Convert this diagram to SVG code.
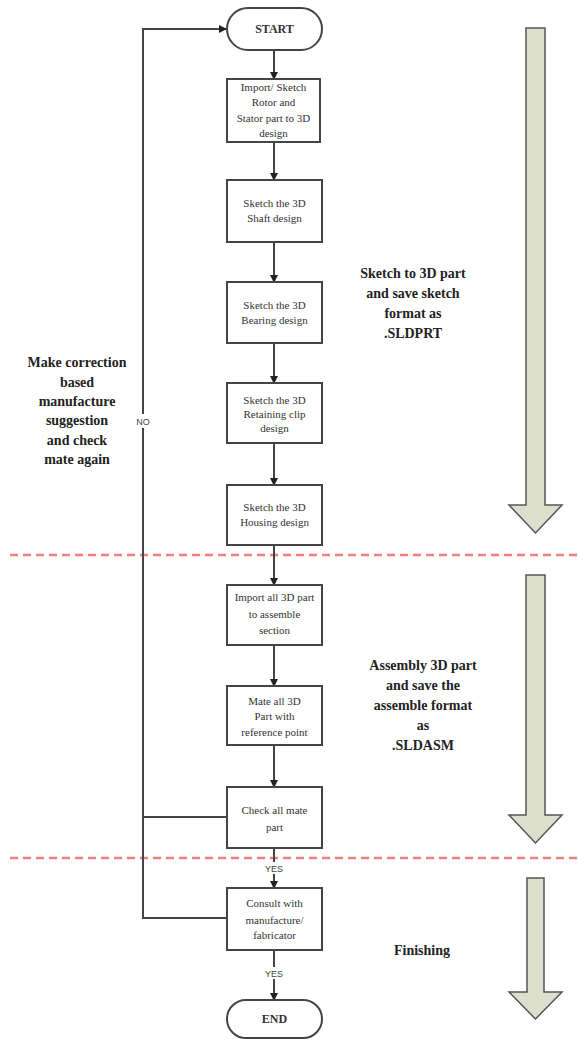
<svg xmlns="http://www.w3.org/2000/svg" width="578" height="1040" viewBox="0 0 578 1040">
<style>
.box{fill:#fff;stroke:#444;stroke-width:2}
.t{font-family:"Liberation Serif",serif;font-size:11px;fill:#333;text-anchor:middle}
.tb{font-family:"Liberation Serif",serif;font-size:12px;font-weight:bold;fill:#333;text-anchor:middle}
.lbl{font-family:"Liberation Serif",serif;font-size:14px;font-weight:bold;fill:#222;text-anchor:middle}
.small{font-family:"Liberation Sans",sans-serif;font-size:9px;fill:#444;text-anchor:middle}
.con{fill:none;stroke:#444;stroke-width:2}
.sep{stroke:#f08080;stroke-width:2.5;stroke-dasharray:8 5}
.big{fill:#dcdfcd;stroke:#555;stroke-width:1.5}
</style>
<defs>
<marker id="ah" markerWidth="8" markerHeight="8" refX="7" refY="4" orient="auto" markerUnits="userSpaceOnUse">
<path d="M0,0 L8,4 L0,8 Z" fill="#222"/>
</marker>
</defs>
<rect width="578" height="1040" fill="#fff"/>
<!-- separators -->
<line class="sep" x1="10" y1="555" x2="578" y2="555"/>
<line class="sep" x1="10" y1="858" x2="578" y2="858"/>
<!-- big arrows -->
<path class="big" d="M526,28 H545 V505 H562 L535.5,533 L509,505 H526 Z"/>
<path class="big" d="M526,575 H545 V815 H562 L535.5,843 L509,815 H526 Z"/>
<path class="big" d="M527,878 H544 V992 H562 L535.5,1019 L509,992 H527 Z"/>
<!-- connectors -->
<g id="connectors">
<line class="con" x1="274" y1="50" x2="274" y2="79" marker-end="url(#ah)"/>
<line class="con" x1="274" y1="142" x2="274" y2="180" marker-end="url(#ah)"/>
<line class="con" x1="274" y1="242" x2="274" y2="282" marker-end="url(#ah)"/>
<line class="con" x1="274" y1="343" x2="274" y2="383" marker-end="url(#ah)"/>
<line class="con" x1="274" y1="443" x2="274" y2="485" marker-end="url(#ah)"/>
<line class="con" x1="274" y1="545" x2="274" y2="585" marker-end="url(#ah)"/>
<line class="con" x1="274" y1="645" x2="274" y2="686" marker-end="url(#ah)"/>
<line class="con" x1="274" y1="745" x2="274" y2="787" marker-end="url(#ah)"/>
<line class="con" x1="274" y1="848" x2="274" y2="888" marker-end="url(#ah)"/>
<line class="con" x1="274" y1="950" x2="274" y2="1000" marker-end="url(#ah)"/>
<path class="con" d="M227,817 H143"/>
<path class="con" d="M227,918 H143 V29 H226" marker-end="url(#ah)"/>
<rect x="136" y="414" width="14" height="14" fill="#fff"/>
<text class="small" x="143" y="425">NO</text>
<rect x="262" y="862" width="24" height="12" fill="#fff"/>
<text class="small" x="274" y="872">YES</text>
<rect x="262" y="967" width="24" height="12" fill="#fff"/>
<text class="small" x="274" y="977">YES</text>
</g>
<!-- nodes -->
<g id="start"><rect class="box" x="227" y="8" width="95" height="42" rx="21"/><text class="tb" x="274.5" y="33">START</text></g>
<g id="n1"><rect class="box" x="227" y="79" width="93" height="63"/>
<text class="t" x="273.5" y="91">Import/ Sketch</text><text class="t" x="273.5" y="106">Rotor and</text><text class="t" x="273.5" y="122">Stator part to 3D</text><text class="t" x="273.5" y="137">design</text></g>
<g id="n2"><rect class="box" x="227" y="180" width="95" height="62"/>
<text class="t" x="274.5" y="207">Sketch the 3D</text><text class="t" x="274.5" y="222">Shaft design</text></g>
<g id="n3"><rect class="box" x="227" y="282" width="95" height="61"/>
<text class="t" x="274.5" y="309">Sketch the 3D</text><text class="t" x="274.5" y="324">Bearing design</text></g>
<g id="n4"><rect class="box" x="227" y="383" width="95" height="60"/>
<text class="t" x="274.5" y="404">Sketch the 3D</text><text class="t" x="274.5" y="418">Retaining clip</text><text class="t" x="274.5" y="432">design</text></g>
<g id="n5"><rect class="box" x="227" y="485" width="95" height="60"/>
<text class="t" x="274.5" y="511">Sketch the 3D</text><text class="t" x="274.5" y="526">Housing design</text></g>
<g id="n6"><rect class="box" x="227" y="585" width="95" height="60"/>
<text class="t" x="274.5" y="601">Import all 3D part</text><text class="t" x="274.5" y="618">to assemble</text><text class="t" x="274.5" y="634">section</text></g>
<g id="n7"><rect class="box" x="227" y="686" width="95" height="59"/>
<text class="t" x="274.5" y="705">Mate all 3D</text><text class="t" x="274.5" y="720">Part with</text><text class="t" x="274.5" y="736">reference point</text></g>
<g id="n8"><rect class="box" x="227" y="787" width="95" height="61"/>
<text class="t" x="274.5" y="814">Check all mate</text><text class="t" x="274.5" y="831">part</text></g>
<g id="n9"><rect class="box" x="227" y="888" width="95" height="62"/>
<text class="t" x="274.5" y="907">Consult with</text><text class="t" x="274.5" y="924">manufacture/</text><text class="t" x="274.5" y="939">fabricator</text></g>
<g id="end"><rect class="box" x="227" y="1000" width="95" height="38" rx="19"/><text class="tb" x="274.5" y="1023">END</text></g>
<!-- side labels -->
<g id="lbl-left">
<text class="lbl" x="77" y="367">Make correction</text>
<text class="lbl" x="77" y="387">based</text>
<text class="lbl" x="77" y="406">manufacture</text>
<text class="lbl" x="77" y="425">suggestion</text>
<text class="lbl" x="77" y="445">and check</text>
<text class="lbl" x="77" y="464">mate again</text>
</g>
<g id="lbl-sketch">
<text class="lbl" x="413" y="278">Sketch to 3D part</text>
<text class="lbl" x="413" y="298">and save sketch</text>
<text class="lbl" x="413" y="318">format as</text>
<text class="lbl" x="413" y="338">.SLDPRT</text>
</g>
<g id="lbl-assembly">
<text class="lbl" x="423" y="670">Assembly 3D part</text>
<text class="lbl" x="423" y="690">and save the</text>
<text class="lbl" x="423" y="710">assemble format</text>
<text class="lbl" x="423" y="730">as</text>
<text class="lbl" x="423" y="750">.SLDASM</text>
</g>
<g id="lbl-finishing"><text class="lbl" x="422" y="955">Finishing</text></g>
</svg>
